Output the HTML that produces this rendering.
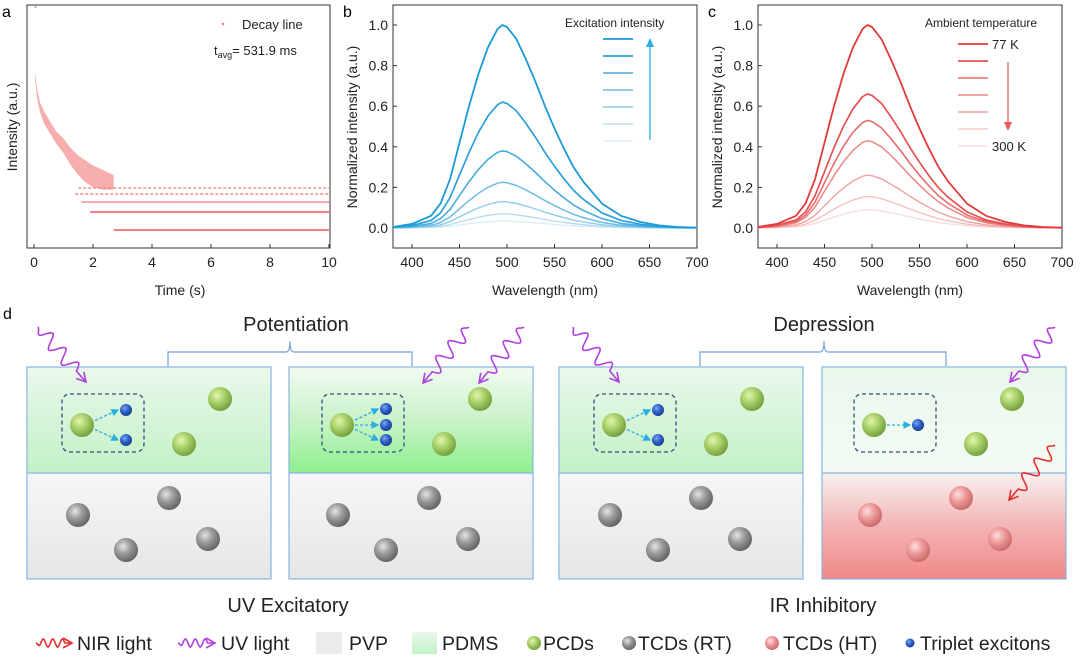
<!DOCTYPE html>
<html><head><meta charset="utf-8"><style>
html,body{margin:0;padding:0;background:#fff;}
svg{display:block;font-family:"Liberation Sans",Arial,sans-serif;}
</style></head><body>
<svg id="fig" width="1080" height="659" viewBox="0 0 1080 659" xmlns="http://www.w3.org/2000/svg">
<defs>
<radialGradient id="gG" cx="0.38" cy="0.35" r="0.7"><stop offset="0" stop-color="#e4f5b0"/><stop offset="0.45" stop-color="#a9d16a"/><stop offset="1" stop-color="#6f9a3a"/></radialGradient>
<radialGradient id="gS" cx="0.38" cy="0.35" r="0.7"><stop offset="0" stop-color="#e4e4e4"/><stop offset="0.45" stop-color="#9a9a9a"/><stop offset="1" stop-color="#5e5e5e"/></radialGradient>
<radialGradient id="gR" cx="0.38" cy="0.35" r="0.7"><stop offset="0" stop-color="#fde0e0"/><stop offset="0.45" stop-color="#ee9a9a"/><stop offset="1" stop-color="#c76565"/></radialGradient>
<radialGradient id="gB" cx="0.38" cy="0.35" r="0.7"><stop offset="0" stop-color="#7aa6f0"/><stop offset="0.5" stop-color="#2d5fc8"/><stop offset="1" stop-color="#1a3a8a"/></radialGradient>
<linearGradient id="green1" x1="0" y1="0" x2="0" y2="1"><stop offset="0" stop-color="#eaf8ec"/><stop offset="1" stop-color="#c3f1c6"/></linearGradient>
<linearGradient id="green2" x1="0" y1="0" x2="0" y2="1"><stop offset="0" stop-color="#f2fbf2"/><stop offset="0.5" stop-color="#c9f2c8"/><stop offset="1" stop-color="#8ef08e"/></linearGradient>
<linearGradient id="green4" x1="0" y1="0" x2="0" y2="1"><stop offset="0" stop-color="#eaf8ec"/><stop offset="1" stop-color="#f3fbf3"/></linearGradient>
<linearGradient id="gray1" x1="0" y1="0" x2="0" y2="1"><stop offset="0" stop-color="#f6f6f8"/><stop offset="1" stop-color="#e6e6e6"/></linearGradient>
<linearGradient id="pink1" x1="0" y1="0" x2="0" y2="1"><stop offset="0" stop-color="#f8f2f2"/><stop offset="0.5" stop-color="#f4b4b4"/><stop offset="1" stop-color="#f08888"/></linearGradient>
<marker id="arrB" markerWidth="6" markerHeight="6" refX="5" refY="3" orient="auto"><path d="M0,0 L6,3 L0,6 z" fill="#2aaee0"/></marker>
</defs>

<!-- Panel a -->
<g id="pa">
<text x="2" y="17" font-size="16">a</text>
<rect x="27" y="5" width="303" height="243" fill="none" stroke="#333" stroke-width="1"/>
<text transform="translate(17,127) rotate(-90)" text-anchor="middle" font-size="14" fill="#222">Intensity (a.u.)</text>
<text x="180" y="295" text-anchor="middle" font-size="14" fill="#222">Time (s)</text>
<circle cx="223" cy="24" r="1.3" fill="#f08080"/>
<text x="242" y="29" font-size="13" fill="#222">Decay line</text>
<text x="214" y="55" font-size="13" fill="#222">t<tspan font-size="9" dy="3">avg</tspan><tspan dy="-3">= 531.9 ms</tspan></text>
<g id="pa-marks"></g>
</g>

<!-- Panel b -->
<g id="pb">
<text x="343" y="17" font-size="16">b</text>
<rect x="393" y="5" width="304" height="243" fill="none" stroke="#333" stroke-width="1"/>
<text transform="translate(357,127) rotate(-90)" text-anchor="middle" font-size="14" fill="#222">Normalized intensity (a.u.)</text>
<text x="545" y="295" text-anchor="middle" font-size="14" fill="#222">Wavelength (nm)</text>
<text x="565" y="27" font-size="12" fill="#222">Excitation intensity</text>
<g id="pb-marks"></g>
<line x1="650" y1="140" x2="650" y2="42" stroke="#2aaee0" stroke-width="1.3"/>
<path d="M646,47 L650,38 L654,47 z" fill="#2aaee0"/>
</g>

<!-- Panel c -->
<g id="pc">
<text x="708" y="17" font-size="16">c</text>
<rect x="758" y="5" width="304" height="243" fill="none" stroke="#333" stroke-width="1"/>
<text transform="translate(722,127) rotate(-90)" text-anchor="middle" font-size="14" fill="#222">Normalized intensity (a.u.)</text>
<text x="910" y="295" text-anchor="middle" font-size="14" fill="#222">Wavelength (nm)</text>
<text x="925" y="27" font-size="12" fill="#222">Ambient temperature</text>
<text x="992" y="49" font-size="13" fill="#222">77 K</text>
<text x="992" y="151" font-size="13" fill="#222">300 K</text>
<g id="pc-marks"></g>
<line x1="1008" y1="62" x2="1008" y2="124" stroke="#e85a5a" stroke-width="1.3"/>
<path d="M1004,122 L1008,131 L1012,122 z" fill="#e85a5a"/>
</g>

<!-- Panel d -->
<g id="pd">
<text x="3" y="319" font-size="16">d</text>
<text x="296" y="331" text-anchor="middle" font-size="20" fill="#222">Potentiation</text>
<text x="824" y="331" text-anchor="middle" font-size="20" fill="#222">Depression</text>
<path d="M168,366 V352 H286 Q290,352 290,341 Q290,352 294,352 H412 V366" fill="none" stroke="#6f9fd8" stroke-width="1.2"/>
<path d="M700,366 V352 H820 Q824,352 824,341 Q824,352 828,352 H946 V366" fill="none" stroke="#6f9fd8" stroke-width="1.2"/>

<g>
<rect x="27" y="367" width="244" height="106" fill="url(#green1)"/><rect x="27" y="473" width="244" height="106" fill="url(#gray1)"/>
<rect x="27" y="367" width="244" height="212" fill="none" stroke="#8ab4e0" stroke-width="1.2"/><line x1="27" y1="473" x2="271" y2="473" stroke="#8ab4e0" stroke-width="1.2"/>
</g>
<g>
<rect x="289" y="367" width="244" height="106" fill="url(#green2)"/><rect x="289" y="473" width="244" height="106" fill="url(#gray1)"/>
<rect x="289" y="367" width="244" height="212" fill="none" stroke="#8ab4e0" stroke-width="1.2"/><line x1="289" y1="473" x2="533" y2="473" stroke="#8ab4e0" stroke-width="1.2"/>
</g>
<g>
<rect x="559" y="367" width="244" height="106" fill="url(#green1)"/><rect x="559" y="473" width="244" height="106" fill="url(#gray1)"/>
<rect x="559" y="367" width="244" height="212" fill="none" stroke="#8ab4e0" stroke-width="1.2"/><line x1="559" y1="473" x2="803" y2="473" stroke="#8ab4e0" stroke-width="1.2"/>
</g>
<g>
<rect x="822" y="367" width="244" height="106" fill="url(#green4)"/><rect x="822" y="473" width="244" height="106" fill="url(#pink1)"/>
<rect x="822" y="367" width="244" height="212" fill="none" stroke="#8ab4e0" stroke-width="1.2"/><line x1="822" y1="473" x2="1066" y2="473" stroke="#8ab4e0" stroke-width="1.2"/>
</g>
<g id="pd-items"></g>
<text x="288" y="612" text-anchor="middle" font-size="20" fill="#222">UV Excitatory</text>
<text x="823" y="612" text-anchor="middle" font-size="20" fill="#222">IR Inhibitory</text>
</g>

<!-- Legend -->
<g id="legend">
<text x="77" y="650" font-size="19.5" fill="#222">NIR light</text>
<text x="221" y="650" font-size="19.5" fill="#222">UV light</text>
<rect x="316" y="632" width="26" height="22" fill="#ececec"/>
<text x="349" y="650" font-size="19.5" fill="#222">PVP</text>
<rect x="412" y="632" width="25" height="22" fill="url(#green1)"/>
<text x="442" y="650" font-size="19.5" fill="#222">PDMS</text>
<circle cx="534" cy="643" r="7" fill="url(#gG)"/>
<text x="543" y="650" font-size="19.5" fill="#222">PCDs</text>
<circle cx="629" cy="643" r="7" fill="url(#gS)"/>
<text x="638" y="650" font-size="19.5" fill="#222">TCDs (RT)</text>
<circle cx="772" cy="643" r="7" fill="url(#gR)"/>
<text x="783" y="650" font-size="19.5" fill="#222">TCDs (HT)</text>
<circle cx="910" cy="643" r="4.5" fill="url(#gB)"/>
<text x="920" y="650" font-size="19.5" fill="#222">Triplet excitons</text>
</g>
</svg>
<script>
// ---- Panel a data ----
const decayTimes = [0.03, 0.1, 0.2, 0.35, 0.5, 0.75, 1.0, 1.25, 1.5, 1.75, 2.0, 2.35, 2.7];
const decayUpper = [72, 66, 60, 56, 53, 48, 45, 41, 38, 36, 34, 32, 30];
const decayLower = [70, 62, 56, 51, 48, 43, 39, 34, 30, 27, 25, 24, 24];
const floorLevels = [24.7, 22.2, 18.9, 14.8, 7.4];
const floorStarts = [1.5, 1.4, 1.6, 1.9, 2.7];
const aTickLabels = [0, 2, 4, 6, 8, 10];
// ---- Panel b/c data ----
const wavelengths = [380, 400, 420, 430, 440, 450, 460, 470, 480, 490, 495, 500, 510, 520, 530, 540, 550, 560, 570, 580, 600, 620, 640, 660, 680, 700];
const bandShape = [0.005, 0.02, 0.06, 0.12, 0.24, 0.42, 0.6, 0.76, 0.89, 0.98, 1.0, 0.99, 0.93, 0.83, 0.72, 0.6, 0.49, 0.39, 0.3, 0.23, 0.12, 0.06, 0.03, 0.013, 0.005, 0.002];
const excitationPeaks = [1.0, 0.62, 0.38, 0.225, 0.13, 0.07, 0.035];
const temperaturePeaks = [1.0, 0.66, 0.53, 0.43, 0.26, 0.155, 0.09];
const yTickLabels = [0.0, 0.2, 0.4, 0.6, 0.8, 1.0];
const xTickLabels = [400, 450, 500, 550, 600, 650, 700];

const NS = "http://www.w3.org/2000/svg";
function mk(tag, attrs, parent){const e=document.createElementNS(NS,tag);for(const k in attrs)e.setAttribute(k,attrs[k]);parent.appendChild(e);return e;}

// Panel a axes
const ax = t => 34 + t * 29.5;
const ay = v => 248 - v * 2.43;
const ga = document.getElementById('pa-marks');
aTickLabels.forEach(t=>{
  const l = mk('line',{x1:ax(t),x2:ax(t),y1:248,y2:244,stroke:'#333'},ga);
  
  
  const tx = mk('text',{x:ax(t),y:267,'text-anchor':'middle','font-size':14,fill:'#222'},ga);
  tx.textContent = t;
  
  
});
let bandPts = decayTimes.map((t,i)=>ax(t)+','+ay(decayUpper[i]));
for(let i=decayTimes.length-1;i>=0;i--) bandPts.push(ax(decayTimes[i])+','+ay(decayLower[i]));
const band = mk('polygon',{points:bandPts.join(' '),fill:'#f4a0a0',opacity:0.85},ga);


floorLevels.forEach((v,i)=>{
  const l = mk('line',{x1:ax(floorStarts[i]),x2:ax(10),y1:ay(v),y2:ay(v),stroke:'#f08080','stroke-width':i>=3?2:1.3,'stroke-dasharray':i<2?'3 2':'none'},ga);
  
  
});
const d0 = mk('circle',{cx:ax(0.05),cy:7,r:1,fill:'#f08080'},ga);



// Spectra panels
function spectra(gid, x0, peaks, colors, widths, legX, legY0){
  const g = document.getElementById(gid);
  const sx = w => x0 + (w - 380) * (304/320);
  const sy = v => 228 - v * 203;
  xTickLabels.forEach(w=>{
    const l = mk('line',{x1:sx(w),x2:sx(w),y1:248,y2:244,stroke:'#333'},g);
    
    
    const t = mk('text',{x:sx(w),y:267,'text-anchor':'middle','font-size':14,fill:'#222'},g);
    t.textContent = w;
    
    
  });
  yTickLabels.forEach(v=>{
    const l = mk('line',{x1:x0,x2:x0+4,y1:sy(v),y2:sy(v),stroke:'#333'},g);
    
    
    const t = mk('text',{x:x0-5,y:sy(v)+5,'text-anchor':'end','font-size':14,fill:'#222'},g);
    t.textContent = v.toFixed(1);
    
    
  });
  for(let i=peaks.length-1;i>=0;i--){
    const d = wavelengths.map((w,j)=>(j?'L':'M')+sx(w).toFixed(1)+','+sy(peaks[i]*bandShape[j]).toFixed(1)).join(' ');
    const p = mk('path',{d:d,fill:'none',stroke:colors[i],'stroke-width':widths[i],'stroke-linejoin':'round'},g);
    
    
    const ll = mk('line',{x1:legX,x2:legX+30,y1:legY0+i*17,y2:legY0+i*17,stroke:colors[i],'stroke-width':widths[i]},g);
    
    
  }
}
const blues = ['#1a9ad6','#2aa0d8','#47acdc','#6cbde3','#8fcdea','#b3dcf0','#d6ecf6'];
const reds  = ['#e03a3a','#e45252','#e96a6a','#ee8585','#f2a2a2','#f6bdbd','#f9d8d8'];
const wds = [1.8,1.7,1.6,1.5,1.4,1.3,1.2];
spectra('pb-marks', 393, excitationPeaks, blues, wds, 603, 39);
spectra('pc-marks', 758, temperaturePeaks, reds, wds, 958, 44);

// Panel d items
const gd = document.getElementById('pd-items');
function wave(x1,y1,x2,y2,color,amp,n){
  const dx=x2-x1, dy=y2-y1, L=Math.hypot(dx,dy), ux=dx/L, uy=dy/L, px=-uy, py=ux;
  let d='M'+x1+','+y1; const steps=60; const wl=L*0.8;
  for(let s=1;s<=steps;s++){const t=s/steps*wl; const a=amp*Math.sin(t/wl*n*2*Math.PI)*(s<steps*0.15?s/(steps*0.15):1);
    d+=' L'+(x1+ux*t+px*a).toFixed(1)+','+(y1+uy*t+py*a).toFixed(1);}
  d+=' L'+x2+','+y2;
  const g = mk('g',{},gd);
  
  
  mk('path',{d:d,fill:'none',stroke:color,'stroke-width':1.6},g);
  const hx=x2-ux*9, hy=y2-uy*9;
  mk('path',{d:'M'+(hx+px*5)+','+(hy+py*5)+' L'+x2+','+y2+' L'+(hx-px*5)+','+(hy-py*5),fill:'none',stroke:color,'stroke-width':1.6},g);
}
const UV='#b040e0', NIR='#e03030';
wave(38,327,86,382,UV,7,3); wave(469,327,423,383,UV,7,3); wave(524,327,479,383,UV,7,3);
wave(573,327,619,382,UV,7,3); wave(1055,327,1010,382,UV,7,3); wave(1055,445,1009,500,NIR,7,3);
wave(36,643,72,643,NIR,4,3); wave(178,643,215,643,UV,4,3);

function ball(x,y,r,fill,name){const c=mk('circle',{cx:x,cy:y,r:r,fill:fill},gd);}
function dbox(x,y,w,h){const r=mk('rect',{x:x,y:y,width:w,height:h,rx:8,fill:'none',stroke:'#2f4f7f','stroke-width':1.3,'stroke-dasharray':'4 3'},gd);}
function darr(x1,y1,x2,y2){const l=mk('line',{x1:x1,y1:y1,x2:x2,y2:y2,stroke:'#2aaee0','stroke-width':1.3,'stroke-dasharray':'3 2','marker-end':'url(#arrB)'},gd);}
const offs=[0,260,532,792];
offs.forEach((o,k)=>{
  dbox(62+o,394,82,58);
  ball(82+o,425,12,'url(#gG)','pcd-sphere');
  const dots = k===1?[409,425,440]:(k===3?[425]:[410,440]);
  dots.forEach(dy=>{darr(95+o,425+(dy-425)*0.3,118+o,dy); ball(126+o,dy,6,'url(#gB)','triplet-exciton');});
  ball(220+o,399,12,'url(#gG)','pcd-sphere'); ball(184+o,444,12,'url(#gG)','pcd-sphere');
  const f = k===3?'url(#gR)':'url(#gS)';
  const nm = k===3?'tcd-ht-sphere':'tcd-rt-sphere';
  ball(78+o,515,12,f,nm); ball(169+o,498,12,f,nm); ball(126+o,550,12,f,nm); ball(208+o,539,12,f,nm);
});
</script>
</body></html>
